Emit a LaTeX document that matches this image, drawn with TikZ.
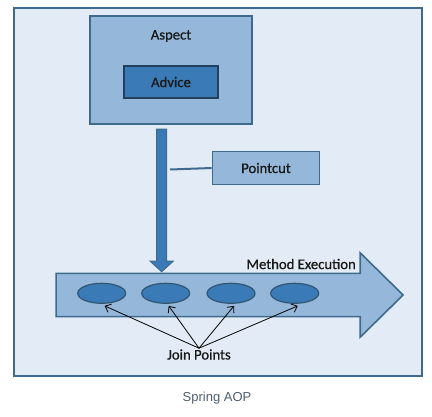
\documentclass[tikz,border=0pt]{standalone}
\usepackage{fontspec}
\setmainfont{Carlito}
\newfontfamily\labelfont{Carlito}[FakeBold=0.7]
\newfontfamily\captionfont{Liberation Sans}
\usetikzlibrary{shapes.geometric,shapes.arrows,arrows.meta,calc}

\definecolor{framefill}{HTML}{E3ECF6}
\definecolor{frameline}{HTML}{3E6A8E}
\definecolor{lightblue}{HTML}{95B8DA}
\definecolor{midblue}{HTML}{3A7BB7}
\definecolor{darkline}{HTML}{22405E}
\definecolor{captiongray}{HTML}{4E5D6E}

\begin{document}
\begin{tikzpicture}[x=1pt, y=-1pt]

            % Stijlen voor de blokken en pijlen
            \tikzset{
                lightbox/.style={rectangle, fill=lightblue, draw=frameline, line width=1.6pt, inner sep=0pt},
                darkbox/.style={rectangle, fill=midblue, draw=darkline, line width=1.2pt, inner sep=0pt},
                joinpt/.style={ellipse, fill=midblue, draw=frameline!80!black, line width=1.2pt,
                    minimum width=48pt, minimum height=20pt, inner sep=0pt},
                label/.style={font=\labelfont\fontsize{14.7}{17}\selectfont, text=black!90, inner sep=1pt},
                jparrow/.style={black, line width=0.8pt, -{Straight Barb[length=5pt, width=9pt]}}
            }

            \useasboundingbox (0,0) rectangle (432,416);

            % --- KADER ---
            \draw[fill=framefill, draw=frameline, line width=2pt] (14,8) rectangle (422,376);

            % --- ASPECT MET ADVICE ---
            \node[lightbox, minimum width=162pt, minimum height=108pt] (aspect) at (171,70) {};
            \node[label] (aspecttxt) at (171,36) {Aspect};
            \node[darkbox, minimum width=94pt, minimum height=32pt, label] (advice) at (171,82) {Advice};

            % --- POINTCUT ---
            \node[lightbox, minimum width=107pt, minimum height=33pt, label] (pointcut) at (266,168) {Pointcut};

            % --- METHOD EXECUTION (grote pijl) ---
            \node[single arrow, anchor=tail, fill=lightblue, draw=frameline, line width=1.6pt,
                minimum width=82pt, minimum height=347pt, single arrow head extend=20.5pt,
                single arrow tip angle=89, inner xsep=0pt, inner ysep=20.8pt] (exec) at (55.3,295) {};
            \node[label, anchor=east] (exectxt) at (357,264) {Method Execution};

            % --- VERTICALE PIJL ---
            \coordinate (shafttop) at (161.7,129);
            \coordinate (shafttip) at (161.7,271.7);
            \draw[fill=midblue, draw=frameline, line width=1pt]
                ($(shafttop)+(-5,0)$) -- ($(shafttop)+(5,0)$) -- ($(shafttip)+(5,-10.5)$)
                -- ($(shafttip)+(11.5,-10.5)$) -- (shafttip) -- ($(shafttip)+(-11.5,-10.5)$)
                -- ($(shafttip)+(-5,-10.5)$) -- cycle;

            % Verbinding naar de pointcut
            \coordinate (shaftside) at (170,169.5);
            \draw[frameline, line width=2pt] (shaftside) -- (pointcut.west);

            % --- JOIN POINTS ---
            \foreach \i/\x in {1/101.7, 2/165.7, 3/231, 4/294.7} {
                \node[joinpt] (jp\i) at (\x,293.3) {};
            }
            \node[label] (jptxt) at (199,354.5) {Join Points};
            \foreach \i in {1,...,4} {
                \draw[jparrow] (jptxt.north) -- ($(jp\i.south)+(3,2)$);
            }

            % --- ONDERSCHRIFT ---
            \node[font=\captionfont\fontsize{13}{15}\selectfont, text=captiongray] (caption) at (217,398) {Spring AOP};

\end{tikzpicture}
\end{document}
